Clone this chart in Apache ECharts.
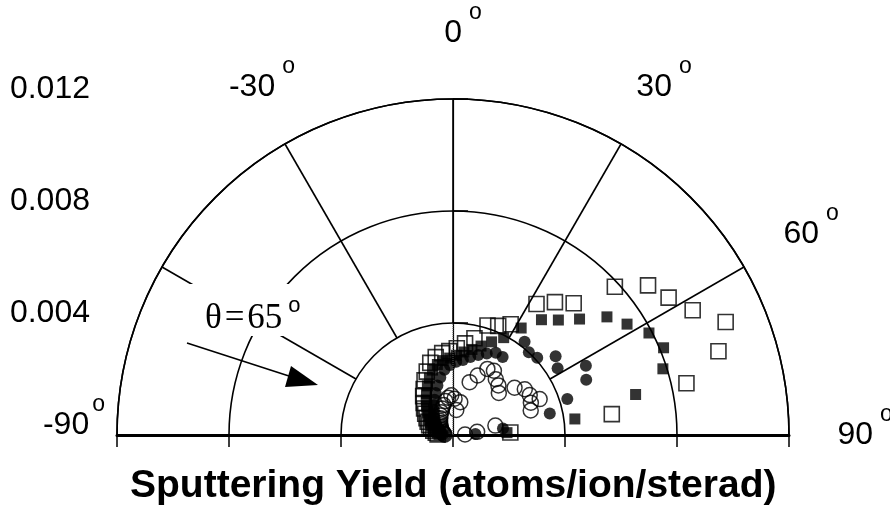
<!DOCTYPE html>
<html>
<head>
<meta charset="utf-8">
<script src="https://cdn.jsdelivr.net/npm/echarts@6/dist/echarts.min.js"></script>
<style>
  html, body { margin: 0; padding: 0; background: #fff; }
  #main { width: 890px; height: 509px; }
</style>
</head>
<body>
<div id="main"></div>
<script>
// emission angle bins (deg)
var angles = [-87.5, -82.5, -77.5, -72.5, -67.5, -62.5, -57.5, -52.5, -47.5, -42.5, -37.5, -32.5,
              -27.5, -22.5, -17.5, -12.5, -7.5, -2.5, 2.5, 7.5, 12.5, 17.5, 22.5, 27.5,
              32.5, 37.5, 42.5, 47.5, 52.5, 57.5, 62.5, 67.5, 72.5, 77.5, 82.5, 87.5];

// sputtering yield (atoms/ion/sterad)
var openSquare = [0.00055, 0.00062, 0.00072, 0.00082, 0.00092, 0.00102, 0.00112, 0.00125, 0.00140, 0.00155, 0.00175, 0.00195,
                  0.00220, 0.00245, 0.00270, 0.00285, 0.00295, 0.00300, 0.00310, 0.00330, 0.00354, 0.00410, 0.00422, 0.00446,
                  0.00555, 0.00598, 0.00638, 0.00784, 0.00878, 0.00913, 0.00965, 0.01054, 0.00994, 0.00854, 0.00572, 0.00205];
var filledSquare = [0.00050, 0.00056, 0.00065, 0.00074, 0.00083, 0.00092, 0.00101, 0.00112, 0.00126, 0.00140, 0.00157, 0.00176,
                    0.00198, 0.00220, 0.00243, 0.00258, 0.00268, 0.00275, 0.00285, 0.00299, 0.00313, 0.00333, 0.00360, 0.00392,
                    0.00453, 0.00519, 0.00557, 0.00613, 0.00693, 0.00737, 0.00789, 0.00814, 0.00786, 0.00668, 0.00439, 0.00193];
var filledCircle = [0.00036, 0.00040, 0.00046, 0.00052, 0.00058, 0.00065, 0.00072, 0.00080, 0.00090, 0.00100, 0.00112, 0.00126,
                    0.00142, 0.00162, 0.00185, 0.00210, 0.00235, 0.00250, 0.00262, 0.00270, 0.00285, 0.00300, 0.00315, 0.00331,
                    0.00330, 0.00420, 0.00401, 0.00408, 0.00462, 0.00443, 0.00535, 0.00515, 0.00428, 0.00354, 0.00180, 0.00080];
var openCircle = [0.00030, 0.00033, 0.00036, 0.00040, 0.00044, 0.00048, 0.00052, 0.00057, 0.00062, 0.00068, 0.00075, 0.00083,
                  0.00092, 0.00102, 0.00112, 0.00124, 0.00134, 0.00142, 0.00130, 0.00090, 0.00120, 0.00198, 0.00230, 0.00266,
                  0.00272, 0.00251, 0.00240, 0.00222, 0.00277, 0.00304, 0.00309, 0.00335, 0.00291, 0.00155, 0.00087, 0.00043];
var openCircleExtraAngles = [67.5];
var openCircleExtra = [0.00301];

var spokeAngles = [-60, -30, 0, 30, 60];
var angleLabels = [-30, 0, 30, 60, 90];
var labelRadius = 0.01436;

function polarData(ang, vals) {
    return vals.map(function (v, i) { return [v, ang[i]]; });
}

var myChart = echarts.init(document.getElementById('main'));

// n: y tick values, nd: "-90" digits, a: angle digits, s/sd: raised degree mark
var rich = {
    n: { fontSize: 32, fontFamily: 'Liberation Sans', color: '#000', lineHeight: 32, padding: [0, 15, 0, 0] },
    nd: { fontSize: 32, fontFamily: 'Liberation Sans', color: '#000', lineHeight: 32 },
    a: { fontSize: 32, fontFamily: 'Liberation Sans', color: '#000', lineHeight: 32, padding: [0, 0, 0, 20] },
    s: { fontSize: 23, fontFamily: 'Liberation Sans', color: '#000', lineHeight: 20, padding: [0, 0, 40, 7] },
    sd: { fontSize: 23, fontFamily: 'Liberation Sans', color: '#000', lineHeight: 20, padding: [0, 0, 40, 3] }
};

var series = [];
spokeAngles.forEach(function (a) {
    series.push({
        type: 'line', coordinateSystem: 'polar', silent: true, symbol: 'none',
        lineStyle: { color: '#000', width: 1.6 },
        data: [[0.004, a], [0.012, a]]
    });
});
series.push({
    type: 'line', coordinateSystem: 'polar', silent: true, symbol: 'none',
    lineStyle: { color: '#555', width: 1, type: 'dotted' },
    data: [[0, 0], [0.004, 0]]
});
series.push({
    type: 'scatter', coordinateSystem: 'polar', symbol: 'rect', symbolSize: 15,
    itemStyle: { color: 'rgba(255,255,255,0)', borderColor: '#000', borderWidth: 1.6 },
    data: polarData(angles, openSquare)
});
series.push({
    type: 'scatter', coordinateSystem: 'polar', symbol: 'circle', symbolSize: 15,
    itemStyle: { color: 'rgba(255,255,255,0)', borderColor: '#000', borderWidth: 1.5 },
    data: polarData(angles, openCircle).concat(polarData(openCircleExtraAngles, openCircleExtra))
});
series.push({
    type: 'scatter', coordinateSystem: 'polar', symbol: 'rect', symbolSize: 11,
    itemStyle: { color: '#000' },
    data: polarData(angles, filledSquare)
});
series.push({
    type: 'scatter', coordinateSystem: 'polar', symbol: 'circle', symbolSize: 12,
    itemStyle: { color: '#000' },
    data: polarData(angles, filledCircle)
});

var baseGraphic = [
    {
        id: 'theta', type: 'text', left: 186, top: 284, z: 50,
        style: {
            text: '{t|\u03B8\u200A=\u200A65}{s|o}',
            backgroundColor: '#fff', padding: [17, 2, 0, 19],
            rich: {
                t: { fontSize: 35, fontFamily: 'Liberation Serif', color: '#000', lineHeight: 35 },
                s: { fontSize: 22, fontFamily: 'Liberation Sans', color: '#000', lineHeight: 20, padding: [0, 0, 26, 6] }
            }
        }
    },
    {
        id: 'arrowLine', type: 'line', z: 50,
        shape: { x1: 187, y1: 343, x2: 292, y2: 377 },
        style: { stroke: '#000', lineWidth: 1.6 }
    },
    {
        id: 'arrowHead', type: 'polygon', z: 50,
        shape: { points: [[291, 366], [285, 387], [318, 385]] },
        style: { fill: '#000' }
    }
];

var option = {
    animation: false,
    backgroundColor: '#fff',
    title: {
        text: 'Sputtering Yield (atoms/ion/sterad)',
        left: 125, top: 462,
        textStyle: { fontSize: 39, fontWeight: 'bold', fontFamily: 'Liberation Sans', color: '#000' }
    },
    grid: { left: 117, right: 101, top: 99, bottom: 74 },
    xAxis: {
        type: 'value', min: -0.012, max: 0.012, interval: 0.004,
        axisLine: { lineStyle: { color: '#000', width: 3 } },
        axisTick: { show: true, length: 12, lineStyle: { color: '#000', width: 1.5 } },
        axisLabel: { show: false },
        splitLine: { show: false }
    },
    yAxis: {
        type: 'value', min: 0, max: 0.012, interval: 0.004,
        axisLine: { show: true, lineStyle: { color: '#000', width: 1.2 } },
        axisTick: { show: true, inside: true, length: 15, lineStyle: { color: '#000', width: 1.5 } },
        axisLabel: {
            margin: 12, padding: [0, 0, 20, 0],
            formatter: function (v) {
                if (v === 0) return '{nd|-90}{sd|o}';
                return '{n|' + v.toFixed(3) + '}';
            },
            rich: rich
        },
        splitLine: { show: false }
    },
    polar: { center: [453, 435], radius: 336 },
    angleAxis: {
        type: 'value', min: -90, max: 90, interval: 30,
        startAngle: 180, endAngle: 0, clockwise: true,
        axisLine: { show: true, lineStyle: { color: '#000', width: 1.6 } },
        axisTick: { show: false },
        splitLine: { show: false },
        axisLabel: { show: false }
    },
    radiusAxis: {
        type: 'value', min: 0, max: 0.012, interval: 0.004,
        axisLine: { show: false }, axisTick: { show: false }, axisLabel: { show: false },
        splitLine: { show: true, lineStyle: { color: '#000', width: 1.6 } }
    },
    graphic: baseGraphic,
    series: series
};

myChart.setOption(option);

// angle labels placed through the polar coordinate system
var labelGraphic = angleLabels.map(function (a) {
    var p = myChart.convertToPixel({ seriesIndex: 6 }, [labelRadius, a]);
    return {
        id: 'ang' + a, type: 'text', x: p[0], y: p[1], z: 40,
        style: { text: '{a|' + a + '}{s|o}', rich: rich, align: 'center', verticalAlign: 'middle' }
    };
});
myChart.setOption({ graphic: baseGraphic.concat(labelGraphic) });
</script>
</body>
</html>
